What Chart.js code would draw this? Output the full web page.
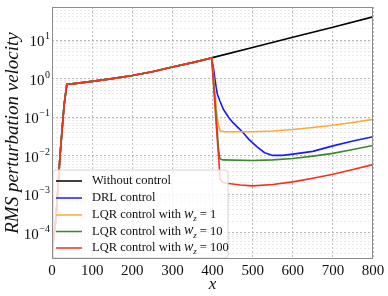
<!DOCTYPE html>
<html>
<head>
<meta charset="utf-8">
<script src="https://cdn.jsdelivr.net/npm/chart.js@4"></script>
<style>
  html, body { margin: 0; padding: 0; background: #fff; }
</style>
</head>
<body>
<canvas id="rmsChart" width="388" height="296"></canvas>
<script>
// values (log y axis)
const xTicks = [0, 100, 200, 300, 400, 500, 600, 700, 800];
const yPowers = [-4, -3, -2, -1, 0, 1];
const yMin = 2.1e-5;
const yMax = 72;

// common growth before control switches on (x <= 398)
const prefixX = [0, 10, 20, 30, 37, 50, 100, 150, 200, 250, 300, 350, 398];
const prefixY = [3e-5, 2.5e-4, 1e-2, 0.2, 0.72, 0.73, 0.85, 1.0, 1.2, 1.5, 2.0, 2.6, 3.45];

const noCtrlX = [400, 500, 600, 700, 800];
const noCtrlY = [3.5, 6.4, 11.8, 21.5, 40];

const drlX = [402, 406, 409, 412, 418, 427, 440, 451, 465, 476, 490, 511, 530, 550, 575, 600, 650, 700, 750, 800];
const drlY = [2.0, 1.0, 0.6, 0.4, 0.27, 0.16, 0.1, 0.072, 0.052, 0.04, 0.027, 0.017, 0.012, 0.0102, 0.0102, 0.011, 0.013, 0.018, 0.024, 0.031];

const lqr1X = [405, 410, 415, 419, 430, 500, 550, 600, 650, 700, 750, 800];
const lqr1Y = [0.6, 0.15, 0.06, 0.044, 0.042, 0.042, 0.044, 0.048, 0.054, 0.062, 0.073, 0.088];

const lqr10X = [405, 410, 415, 418, 425, 500, 550, 600, 650, 700, 750, 800];
const lqr10Y = [0.4, 0.08, 0.015, 0.0085, 0.0078, 0.0075, 0.0078, 0.0085, 0.0098, 0.0115, 0.0145, 0.0185];

const lqr100X = [405, 410, 415, 419, 425, 440, 470, 500, 550, 600, 650, 700, 750, 800];
const lqr100Y = [0.3, 0.05, 0.01, 0.0025, 0.00205, 0.0019, 0.00175, 0.00165, 0.0018, 0.0021, 0.0026, 0.0033, 0.0044, 0.0059];

const seriesLabels = ['Without control', 'DRL control', 'LQR control with', 'LQR control with', 'LQR control with'];
const wzValues = [null, null, '1', '10', '100'];
const seriesColors = ['#000000', '#1a1aff', '#fbab35', '#3a8a2a', '#f5301c'];

const serif = "'Liberation Serif', 'Times New Roman', 'DejaVu Serif', serif";

function pts(xs, ys) {
  return xs.map((x, i) => ({ x: x, y: ys[i] }));
}
function withPrefix(xs, ys) {
  return pts(prefixX, prefixY).concat(pts(xs, ys));
}

const seriesData = [
  withPrefix(noCtrlX, noCtrlY),
  withPrefix(drlX, drlY),
  withPrefix(lqr1X, lqr1Y),
  withPrefix(lqr10X, lqr10Y),
  withPrefix(lqr100X, lqr100Y),
];

// log ticks: decades plus 2..9 minors for the light grid
function logTicks() {
  const out = [];
  for (let p = -5; p <= 2; p++) {
    for (let m = 1; m <= 9; m++) {
      const v = m * Math.pow(10, p);
      if (v >= yMin && v <= yMax) out.push({ value: v, major: m === 1 });
    }
  }
  return out;
}

// frame, y tick labels with exponents, legend with w_z
const extras = {
  id: 'extras',
  afterDatasetsDraw(chart) {
    const ctx = chart.ctx;
    const a = chart.chartArea;
    const ys = chart.scales.y;
    ctx.save();

    // legend box
    const lx = a.left + 1, ly = 170, lw = 175, lh = a.bottom - 1 - ly;
    ctx.beginPath();
    ctx.roundRect(lx, ly, lw, lh, 3);
    ctx.fillStyle = 'rgba(255,255,255,0.8)';
    ctx.fill();
    ctx.strokeStyle = '#d4d4d4';
    ctx.lineWidth = 1;
    ctx.stroke();

    const rowY = [181, 198, 215, 231.5, 248];
    ctx.textBaseline = 'middle';
    ctx.textAlign = 'left';
    seriesLabels.forEach((lab, i) => {
      ctx.strokeStyle = seriesColors[i];
      ctx.lineWidth = 1.5;
      ctx.beginPath();
      ctx.moveTo(56, rowY[i]);
      ctx.lineTo(82, rowY[i]);
      ctx.stroke();
      ctx.fillStyle = '#111';
      ctx.font = '12.5px ' + serif;
      let x = 92;
      ctx.fillText(lab, x, rowY[i]);
      if (wzValues[i]) {
        x += ctx.measureText(lab + ' ').width;
        ctx.font = 'italic 14px ' + serif;
        ctx.fillText('w', x, rowY[i] - 1);
        x += ctx.measureText('w').width;
        ctx.font = 'italic 9px ' + serif;
        ctx.fillText('z', x, rowY[i] + 4);
        x += ctx.measureText('z').width + 3;
        ctx.font = '12.5px ' + serif;
        ctx.fillText('= ' + wzValues[i], x, rowY[i]);
      }
    });

    // frame
    ctx.strokeStyle = '#8c8c8c';
    ctx.lineWidth = 1;
    ctx.strokeRect(a.left + 0.5, a.top + 0.5, a.right - a.left - 1, a.bottom - a.top - 1);

    // y tick labels 10^p
    ctx.fillStyle = '#111';
    ctx.textBaseline = 'alphabetic';
    ctx.textAlign = 'right';
    yPowers.forEach((p) => {
      const y = ys.getPixelForValue(Math.pow(10, p));
      const exp = String(p).replace('-', '\u2212');
      ctx.font = '10px ' + serif;
      const ew = ctx.measureText(exp).width;
      ctx.fillText(exp, 50, y - 1);
      ctx.font = '15px ' + serif;
      ctx.fillText('10', 50 - ew - 0.5, y + 6);
    });
    ctx.restore();
  },
};

new Chart(document.getElementById('rmsChart'), {
  type: 'line',
  data: {
    datasets: seriesData.map((d, i) => ({
      label: seriesLabels[i],
      data: d,
      borderColor: seriesColors[i],
      backgroundColor: seriesColors[i],
      borderWidth: 1.6,
      pointRadius: 0,
      tension: 0,
      order: seriesData.length - 1 - i, // red drawn on top
    })),
  },
  options: {
    responsive: false,
    animation: false,
    layout: { padding: { top: 7, right: 15, left: 0, bottom: 0 } },
    plugins: {
      legend: { display: false },
      tooltip: { enabled: false },
    },
    scales: {
      x: {
        type: 'linear',
        min: 0,
        max: 800,
        afterBuildTicks: (s) => { s.ticks = xTicks.map((v) => ({ value: v })); },
        afterFit: (s) => { s.height = 37; },
        ticks: { font: { family: serif, size: 15 }, color: '#111', padding: 3, maxRotation: 0 },
        grid: { color: '#a8a8a8', drawTicks: false, lineWidth: 0.8 },
        border: { display: false, dash: [2, 2] },
        title: {
          display: true,
          text: 'x',
          font: { family: serif, size: 17, style: 'italic' },
          color: '#111',
          padding: { top: 0, bottom: 1 },
        },
      },
      y: {
        type: 'logarithmic',
        min: yMin,
        max: yMax,
        afterBuildTicks: (s) => { s.ticks = logTicks(); },
        afterFit: (s) => { s.width = 52; },
        ticks: { display: false },
        grid: {
          drawTicks: false,
          color: (c) => (c.tick && c.tick.major ? '#a8a8a8' : '#e2e2e2'),
          lineWidth: 0.8,
        },
        border: { display: false, dash: [2, 2] },
        title: {
          display: true,
          text: 'RMS perturbation velocity',
          font: { family: serif, size: 19, style: 'italic' },
          color: '#111',
          padding: { top: 2, bottom: 0 },
        },
      },
    },
  },
  plugins: [extras],
});
</script>
</body>
</html>
